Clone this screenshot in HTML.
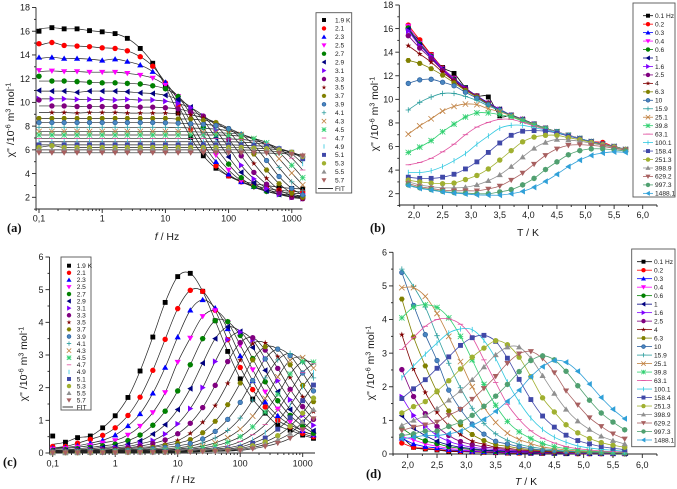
<!DOCTYPE html>
<html lang="en">
<head>
<meta charset="utf-8">
<title>AC susceptibility chart panels</title>
<style>
html,body{margin:0;padding:0;background:#fff;}
svg{display:block;font-family:"Liberation Sans",sans-serif;filter:blur(0.3px);}
</style>
</head>
<body>
<svg id="figure" xmlns="http://www.w3.org/2000/svg" width="677" height="489" viewBox="0 0 677 489"></svg>
<script>
const temps = [1.9,2.1,2.3,2.5,2.7,2.9,3.1,3.3,3.5,3.7,3.9,4.1,4.3,4.5,4.7,4.9,5.1,5.3,5.5,5.7];
const freqs = [0.1,0.16,0.25,0.4,0.63,1,1.6,2.5,4,6.3,10,15.9,25.1,39.8,63.1,100.1,158.4,251.3,398.9,629.2,997.3,1488.1];
const tempLabels = ['1.9 K','2.1','2.3','2.5','2.7','2.9','3.1','3.3','3.5','3.7','3.9','4.1','4.3','4.5','4.7','4.9','5.1','5.3','5.5','5.7'];
const freqLabels = ['0.1 Hz','0.2','0.3','0.4','0.6','1','1.6','2.5','4','6.3','10','15.9','25.1','39.8','63.1','100.1','158.4','251.3','398.9','629.2','997.3','1488.1'];

const chiPrime = [
[16.0,16.3,16.2,16.2,16.05,15.95,15.8,15.4,14.55,13.3,11.35,9.1,7.05,5.5,4.45,3.8,3.4,3.15,3.0,2.85,2.75,2.7],
[14.95,15.05,14.8,14.75,14.7,14.6,14.55,14.35,13.85,13.05,11.65,9.75,7.75,5.95,4.65,3.8,3.3,3.0,2.75,2.6,2.5,2.45],
[13.8,13.8,13.7,13.7,13.65,13.55,13.65,13.45,13.15,12.6,11.7,10.2,8.35,6.5,5.0,3.95,3.3,2.9,2.6,2.45,2.35,2.3],
[12.7,12.65,12.6,12.6,12.55,12.55,12.55,12.45,12.3,12.05,11.45,10.5,9.0,7.25,5.55,4.3,3.4,2.85,2.5,2.3,2.2,2.15],
[12.2,11.8,11.8,11.75,11.7,11.65,11.65,11.6,11.55,11.4,11.15,10.5,9.4,7.9,6.2,4.8,3.65,2.9,2.5,2.25,2.1,2.05],
[11.0,10.95,10.95,10.85,10.95,10.95,10.95,10.9,10.8,10.75,10.6,10.25,9.6,8.5,7.0,5.4,4.1,3.2,2.55,2.25,2.05,1.98],
[10.3,10.3,10.3,10.25,10.25,10.25,10.2,10.25,10.2,10.2,10.1,9.9,9.55,8.85,7.65,6.2,4.7,3.55,2.75,2.25,2.0,1.9],
[10.2,9.7,9.7,9.65,9.65,9.65,9.65,9.65,9.6,9.6,9.55,9.45,9.2,8.85,8.05,6.9,5.5,4.1,3.1,2.4,2.0,1.88],
[8.6,9.15,9.15,9.1,9.15,9.15,9.15,9.1,9.1,9.1,9.1,9.05,8.95,8.7,8.3,7.55,6.3,4.85,3.6,2.65,2.15,1.88],
[8.65,8.65,8.65,8.65,8.65,8.65,8.65,8.65,8.65,8.65,8.65,8.6,8.6,8.5,8.3,7.8,6.95,5.65,4.3,3.15,2.35,2.0],
[8.3,8.3,8.3,8.3,8.3,8.3,8.3,8.3,8.3,8.3,8.28,8.25,8.2,8.15,8.05,7.8,7.3,6.4,5.1,3.75,2.75,2.2],
[7.9,7.9,7.9,7.9,7.9,7.9,7.9,7.9,7.9,7.9,7.9,7.88,7.85,7.8,7.75,7.6,7.35,6.8,5.85,4.5,3.3,2.55],
[7.55,7.55,7.55,7.55,7.55,7.55,7.55,7.55,7.55,7.55,7.55,7.55,7.53,7.5,7.45,7.4,7.3,6.95,6.35,5.25,4.05,3.05],
[7.25,7.25,7.25,7.25,7.25,7.25,7.25,7.25,7.25,7.25,7.25,7.25,7.25,7.25,7.25,7.22,7.15,6.95,6.6,5.8,4.7,3.65],
[6.95,6.95,6.95,6.95,6.95,6.95,6.95,6.95,6.95,6.95,6.95,6.95,6.95,6.95,6.95,6.92,6.88,6.75,6.55,6.1,5.3,4.3],
[6.68,6.68,6.68,6.68,6.68,6.68,6.68,6.68,6.68,6.68,6.68,6.68,6.68,6.68,6.68,6.68,6.65,6.58,6.45,6.15,5.65,4.85],
[6.42,6.42,6.42,6.42,6.42,6.42,6.42,6.42,6.42,6.42,6.42,6.42,6.42,6.42,6.42,6.42,6.4,6.35,6.28,6.1,5.8,5.25],
[6.2,6.35,6.2,6.2,6.2,6.2,6.2,6.2,6.2,6.2,6.2,6.2,6.2,6.2,6.2,6.2,6.2,6.15,6.1,6.0,5.8,5.45],
[6.0,6.0,6.0,6.0,6.0,6.0,6.0,6.0,6.0,6.0,6.0,6.0,6.0,6.0,6.0,6.0,6.0,5.97,5.93,5.85,5.72,5.55],
[5.75,5.75,5.75,5.75,5.75,5.75,5.75,5.75,5.75,5.75,5.75,5.75,5.75,5.75,5.75,5.75,5.75,5.75,5.73,5.7,5.62,5.5]
];

const chiDouble = [
[.52,.33,.47,.52,.77,1.14,1.70,2.51,3.55,4.61,5.40,5.50,4.95,4.05,3.11,2.27,1.65,1.22,.85,.70,.55,.45],
[.2,.2,.3,.42,.54,.77,1.15,1.71,2.53,3.48,4.42,4.98,4.95,4.37,3.47,2.62,1.94,1.41,1.0,.8,.6,.5],
[.15,.17,.22,.3,.39,.55,.83,1.2,1.83,2.62,3.55,4.37,4.69,4.44,3.8,2.97,2.21,1.56,1.14,.87,.68,.55],
[.12,.14,.18,.23,.31,.38,.55,.82,1.24,1.85,2.78,3.52,4.18,4.36,4.0,3.3,2.55,1.87,1.35,.95,.68,.55],
[.08,.1,.13,.17,.22,.27,.38,.55,.85,1.28,1.9,2.7,3.5,4.05,4.02,3.6,2.89,2.18,1.6,1.15,.82,.6],
[.07,.08,.1,.13,.17,.2,.27,.37,.58,.87,1.33,1.97,2.75,3.5,3.86,3.72,3.23,2.53,1.88,1.33,.95,.68],
[.06,.07,.08,.1,.13,.16,.2,.28,.38,.58,.89,1.36,2.0,2.8,3.47,3.7,3.46,2.88,2.21,1.63,1.15,.85],
[.05,.06,.07,.08,.1,.12,.16,.21,.29,.4,.59,.91,1.39,2.07,2.8,3.38,3.53,3.15,2.59,1.95,1.42,1.03],
[.04,.05,.06,.07,.08,.1,.13,.17,.2,.28,.38,.6,.94,1.45,2.13,2.84,3.35,3.37,2.95,2.31,1.72,1.27],
[.03,.04,.05,.06,.07,.08,.1,.13,.17,.23,.3,.41,.62,.97,1.48,2.14,2.85,3.25,3.18,2.7,2.07,1.57],
[.03,.03,.04,.05,.06,.07,.08,.1,.13,.17,.22,.29,.43,.66,1.03,1.55,2.22,2.88,3.18,2.98,2.45,1.9],
[.02,.03,.03,.04,.05,.06,.07,.08,.1,.13,.16,.21,.31,.46,.69,1.07,1.62,2.3,2.85,3.05,2.78,2.3],
[.02,.02,.03,.03,.04,.05,.06,.07,.08,.1,.12,.16,.21,.31,.47,.73,1.13,1.67,2.33,2.84,2.92,2.6],
[.02,.02,.02,.03,.03,.04,.05,.06,.06,.08,.1,.12,.16,.22,.33,.5,.8,1.25,1.8,2.42,2.8,2.78],
[.01,.02,.02,.02,.03,.03,.04,.05,.05,.06,.07,.09,.12,.16,.22,.35,.56,.87,1.33,1.88,2.46,2.73],
[.01,.01,.02,.02,.02,.03,.03,.04,.04,.05,.06,.07,.09,.12,.16,.24,.4,.63,.98,1.46,2.03,2.46],
[.01,.01,.01,.02,.02,.02,.03,.03,.04,.04,.05,.06,.07,.09,.12,.18,.3,.46,.73,1.08,1.6,2.08],
[.01,.01,.01,.01,.02,.02,.02,.03,.03,.03,.04,.05,.06,.07,.09,.14,.22,.34,.53,.82,1.22,1.68],
[.01,.01,.01,.01,.01,.02,.02,.02,.02,.03,.03,.04,.05,.06,.07,.11,.17,.26,.4,.6,.95,1.33],
[.01,.01,.01,.01,.01,.01,.02,.02,.02,.02,.03,.03,.04,.05,.06,.08,.13,.2,.3,.45,.72,1.05]
];

const freqTicks = [0.1,1,10,100,1000];
const freqTickLabels = ['0,1','1','10','100','1000'];
const tempTicks = [2,2.5,3,3.5,4,4.5,5,5.5,6];
const tempTickLabels = ['2,0','2,5','3,0','3,5','4,0','4,5','5,0','5,5','6,0'];
const primeTicks = [2,4,6,8,10,12,14,16,18];
const doubleTicks = [0,1,2,3,4,5,6];

const styles = [
 ['square','#000','#000'],['circle','#f00','#f00'],['up','#0000ff','#0000ff'],['down','#ff00ff','#ff00ff'],
 ['diamond','#008000','#008000'],['left','#000080','#000080'],['right','#8000ff','#8000ff'],['circle','#800080','#800080'],
 ['star','#800000','#800000'],['penta','#808000','#808000'],['ball','#4a86c0','#2a5f9e'],['plus','#2f9f9f','#2f9f9f'],
 ['cross','#c08040','#c08040'],['aster','#30d070','#30d070'],['dash','#e04f9f','#e04f9f'],['bar','#30c8e0','#30c8e0'],
 ['square','#4048a8','#4048a8'],['circle','#a0b030','#a0b030'],['up','#909090','#909090'],['down','#a86060','#a86060'],
 ['diamond','#50a070','#50a070'],['left','#30a0d8','#30a0d8']
];

const svg = document.getElementById('figure');
const NS = 'http://www.w3.org/2000/svg';

function mk(tag, attrs, parent) {
  const el = document.createElementNS(NS, tag);
  for (const k in attrs) el.setAttribute(k, attrs[k]);
  (parent || svg).appendChild(el);
  return el;
}
function polyPts(cx, cy, pts) {
  return pts.map(p => (cx + p[0]).toFixed(2) + ',' + (cy + p[1]).toFixed(2)).join(' ');
}
function ngon(n, r, rot) {
  const a = [];
  for (let i = 0; i < n; i++) {
    const t = rot + i * 2 * Math.PI / n;
    a.push([r * Math.cos(t), r * Math.sin(t)]);
  }
  return a;
}
function starPts(r) {
  const a = [];
  for (let i = 0; i < 10; i++) {
    const t = -Math.PI / 2 + i * Math.PI / 5;
    const q = i % 2 ? r * 0.42 : r * 1.15;
    a.push([q * Math.cos(t), q * Math.sin(t)]);
  }
  return a;
}
function marker(parent, style, cx, cy, r) {
  const shape = style[0], fill = style[1], stroke = style[2];
  if (shape === 'square') return mk('rect', {x: cx - r * .9, y: cy - r * .9, width: r * 1.8, height: r * 1.8, fill}, parent);
  if (shape === 'circle') return mk('circle', {cx, cy, r, fill}, parent);
  if (shape === 'ball') return mk('circle', {cx, cy, r: r * .85, fill, stroke, 'stroke-width': .7}, parent);
  if (shape === 'up') return mk('polygon', {points: polyPts(cx, cy, [[0, -r * 1.1], [r * 1.15, r * .85], [-r * 1.15, r * .85]]), fill}, parent);
  if (shape === 'down') return mk('polygon', {points: polyPts(cx, cy, [[0, r * 1.1], [r * 1.15, -r * .85], [-r * 1.15, -r * .85]]), fill}, parent);
  if (shape === 'left') return mk('polygon', {points: polyPts(cx, cy, [[-r * 1.1, 0], [r * .85, -r * 1.15], [r * .85, r * 1.15]]), fill}, parent);
  if (shape === 'right') return mk('polygon', {points: polyPts(cx, cy, [[r * 1.1, 0], [-r * .85, -r * 1.15], [-r * .85, r * 1.15]]), fill}, parent);
  if (shape === 'diamond') return mk('polygon', {points: polyPts(cx, cy, ngon(8, r * 1.05, 0)), fill}, parent);
  if (shape === 'penta') return mk('polygon', {points: polyPts(cx, cy, ngon(6, r * 1.05, 0)), fill}, parent);
  if (shape === 'star') return mk('polygon', {points: polyPts(cx, cy, starPts(r)), fill}, parent);
  let d = '';
  if (shape === 'plus') d = `M${cx - r} ${cy}H${cx + r}M${cx} ${cy - r}V${cy + r}`;
  if (shape === 'cross') d = `M${cx - r} ${cy - r}L${cx + r} ${cy + r}M${cx - r} ${cy + r}L${cx + r} ${cy - r}`;
  if (shape === 'aster') d = `M${cx - r} ${cy - r}L${cx + r} ${cy + r}M${cx - r} ${cy + r}L${cx + r} ${cy - r}M${cx - r} ${cy}H${cx + r}M${cx} ${cy - r}V${cy + r}`;
  if (shape === 'dash') d = `M${cx - r} ${cy}H${cx + r}`;
  if (shape === 'bar') d = `M${cx} ${cy - r}V${cy + r}`;
  return mk('path', {d, fill: 'none', stroke, 'stroke-width': .8}, parent);
}
function smooth(pts) {
  let d = 'M' + pts[0][0].toFixed(2) + ' ' + pts[0][1].toFixed(2);
  for (let i = 0; i < pts.length - 1; i++) {
    const p0 = pts[Math.max(0, i - 1)], p1 = pts[i], p2 = pts[i + 1], p3 = pts[Math.min(pts.length - 1, i + 2)];
    const c1x = p1[0] + (p2[0] - p0[0]) / 6, c1y = p1[1] + (p2[1] - p0[1]) / 6;
    const c2x = p2[0] - (p3[0] - p1[0]) / 6, c2y = p2[1] - (p3[1] - p1[1]) / 6;
    d += `C${c1x.toFixed(2)} ${c1y.toFixed(2)} ${c2x.toFixed(2)} ${c2y.toFixed(2)} ${p2[0].toFixed(2)} ${p2[1].toFixed(2)}`;
  }
  return d;
}
function drawText(parent, str, x, y, size, anchor) {
  const t = mk('text', {x, y, 'font-size': size, 'text-anchor': anchor || 'start', fill: '#1a1a1a'}, parent);
  t.textContent = str;
  return t;
}
function yTitle(parent, x, y) {
  const t = mk('text', {x: 0, y: 0, 'font-size': 10.5, 'text-anchor': 'middle', fill: '#1a1a1a', transform: `translate(${x} ${y}) rotate(-90)`}, parent);
  const parts = [['χ" /10', 0, 10.5], ['-6', -3.5, 7], [' m', 3.5, 10.5], ['3', -3.5, 7], [' mol', 3.5, 10.5], ['-1', -3.5, 7]];
  parts.forEach(p => {
    const s = mk('tspan', {dy: p[1], 'font-size': p[2]}, t);
    s.textContent = p[0];
  });
  return t;
}

function drawAxes(g, ax) {
  const axisColor = '#222';
  const axesGroup = mk('g', {stroke: axisColor, 'stroke-width': .9, fill: 'none'}, g);
  
  
  mk('line', {x1: ax.left, x2: ax.left, y1: ax.top, y2: ax.bottom + .4}, axesGroup);
  mk('line', {x1: ax.left, x2: ax.right, y1: ax.bottom, y2: ax.bottom}, axesGroup);
  ax.yMajor.forEach(v => mk('line', {x1: ax.left - 4, x2: ax.left, y1: ax.y(v), y2: ax.y(v)}, axesGroup));
  ax.yMinor.forEach(v => mk('line', {x1: ax.left - 2, x2: ax.left, y1: ax.y(v), y2: ax.y(v)}, axesGroup));
  ax.xMajor.forEach(v => mk('line', {x1: ax.x(v), x2: ax.x(v), y1: ax.bottom, y2: ax.bottom + 4}, axesGroup));
  ax.xMinor.forEach(v => mk('line', {x1: ax.x(v), x2: ax.x(v), y1: ax.bottom, y2: ax.bottom + 2}, axesGroup));
  ax.yMajor.forEach(v => {
    const t = drawText(g, String(v), ax.left - 6, ax.y(v) + 3.2, 9, 'end');
    
    
  });
  ax.xMajor.forEach((v, i) => {
    const t = drawText(g, ax.xLabels[i], ax.x(v), ax.tickBase, 9, 'middle');
    
    
  });
}

function drawLegend(g, box, labels, count, mode, lx0, lx1, mx, tx, y0, step, fitY) {
  const bg = mk('rect', {x: box[0], y: box[1], width: box[2], height: box[3], fill: '#fff', stroke: '#555', 'stroke-width': .9}, g);
  
  
  for (let i = 0; i < count; i++) {
    const y = y0 + i * step;
    const e = mk('g', {}, g);
    
    
    if (mode === 'line') mk('line', {x1: lx0, x2: lx1, y1: y, y2: y, stroke: styles[i][2], 'stroke-width': .8}, e);
    marker(e, styles[i], mx, y, 2.2);
    drawText(e, labels[i], tx, y + 2.3, 6.6);
  }
  if (fitY) {
    const e = mk('g', {}, g);
    
    
    mk('line', {x1: lx0, x2: lx1, y1: fitY, y2: fitY, stroke: '#222', 'stroke-width': .9}, e);
    drawText(e, 'FIT', tx, fitY + 2.3, 6.6);
  }
}

function logMinors(xMinLog, xMaxLog) {
  const out = [];
  for (let d = -2; d < 4; d++) for (let m = 2; m <= 9; m++) {
    const v = m * Math.pow(10, d), l = Math.log10(v);
    if (l > xMinLog && l < xMaxLog) out.push(v);
  }
  return out;
}
function rangeStep(a, b, s) {
  const o = [];
  for (let v = a; v <= b + 1e-9; v += s) o.push(+v.toFixed(3));
  return o;
}

function freqAxes(cfg) {
  const dec = (cfg.x1000 - cfg.x01) / 4;
  const x = f => cfg.x01 + (Math.log10(f) + 1) * dec;
  return {
    x, left: cfg.left, right: cfg.right, top: cfg.top, bottom: cfg.bottom, y: cfg.y,
    xMajor: freqTicks, xLabels: freqTickLabels,
    xMinor: logMinors(-1 - (cfg.x01 - cfg.left) / dec, -1 + (cfg.right - cfg.x01) / dec),
    yMajor: cfg.yMajor, yMinor: cfg.yMinor, tickBase: cfg.tickBase
  };
}
function tempAxes(cfg) {
  const u = (cfg.x6 - cfg.x2) / 4;
  const x = t => cfg.x2 + (t - 2) * u;
  return {
    x, left: cfg.left, right: cfg.right, top: cfg.top, bottom: cfg.bottom, y: cfg.y,
    xMajor: tempTicks, xLabels: tempTickLabels,
    xMinor: [1.75, 2.25, 2.75, 3.25, 3.75, 4.25, 4.75, 5.25, 5.75, 6.25],
    yMajor: cfg.yMajor, yMinor: cfg.yMinor, tickBase: cfg.tickBase
  };
}

function drawFreqSeries(g, ax, table, fitFirst) {
  const lines = mk('g', {fill: 'none', stroke: '#222', 'stroke-width': .7}, g);
  
  
  table.forEach((row, s) => {
    const pts = row.map((v, i) => [ax.x(freqs[i]), ax.y(i === 0 ? fitFirst(row) : v)]);
    const p = mk('path', {d: smooth(pts)}, lines);
    
    
  });
  table.forEach((row, s) => {
    const sg = mk('g', {}, g);
    
    
    row.forEach((v, i) => {
      const m = marker(sg, styles[s], ax.x(freqs[i]), ax.y(v), 2.7);
      
      
    });
  });
}
function drawTempSeries(g, ax, table) {
  freqs.forEach((f, s) => {
    const sg = mk('g', {}, g);
    
    
    const vals = table.map(row => row[s]);
    const pts = vals.map((v, i) => [ax.x(temps[i]), ax.y(v)]);
    const p = mk('path', {d: smooth(pts), fill: 'none', stroke: styles[s][2], 'stroke-width': .8}, sg);
    
    
    vals.forEach((v, i) => {
      const m = marker(sg, styles[s], ax.x(temps[i]), ax.y(v), 2.7);
      
      
    });
  });
}
function labelTitle(g, x, y, letter, unit, italic) {
  const t = mk('text', {x, y, 'font-size': 10.5, 'text-anchor': 'middle', fill: '#1a1a1a'}, g);
  
  
  const a = mk('tspan', {'font-style': italic ? 'italic' : 'normal'}, t);
  a.textContent = letter;
  const b = mk('tspan', {}, t);
  b.textContent = ' / ' + unit;
}
function panelLabel(g, x, y, str) {
  const t = mk('text', {x, y, 'font-size': 12.5, 'font-weight': 'bold', fill: '#111', 'font-family': '"Liberation Serif",serif'}, g);
  
  
  t.textContent = str;
}
function linY(yA, vA, yB, vB) {
  return v => yA + (v - vA) * (yB - yA) / (vB - vA);
}

/* panel a */
const gA = mk('g', {});


const axA = freqAxes({x01: 39, x1000: 291.8, left: 36, right: 302.5, top: 7.5, bottom: 209,
  y: linY(197.3, 2, 7.5, 18), yMajor: primeTicks, yMinor: rangeStep(1, 17, 2), tickBase: 221.7});
drawAxes(gA, axA);
drawFreqSeries(gA, axA, chiPrime, row => row[2]);
yTitle(gA, 14, 120);
labelTitle(gA, 167, 240, 'f', 'Hz', true);
panelLabel(gA, 7, 232, '(a)');
drawLegend(gA, [316, 12.7, 35.7, 180.3], tempLabels, 20, 'marker', 318, 333, 324, 335, 20, 8.43, 188.5);

/* panel b */
const gB = mk('g', {});


const axB = tempAxes({x2: 414, x6: 642.7, left: 399.3, right: 657, top: 5, bottom: 205,
  y: linY(193.7, 2, 5, 18), yMajor: primeTicks, yMinor: rangeStep(1, 17, 2), tickBase: 218});
drawAxes(gB, axB);
drawTempSeries(gB, axB, chiPrime);
yTitle(gB, 378, 114);
labelTitle(gB, 528, 236, 'T', 'K', false);
panelLabel(gB, 370, 232, '(b)');
drawLegend(gB, [633, 3, 42, 194], freqLabels, 22, 'line', 643, 653, 648, 655, 15.7, 8.46);

/* panel c */
const gC = mk('g', {});


const axC = freqAxes({x01: 52.7, x1000: 302.7, left: 49.5, right: 315, top: 257, bottom: 453,
  y: linY(453, 0, 257, 6), yMajor: doubleTicks, yMinor: rangeStep(.5, 5.5, 1), tickBase: 466.7});
drawAxes(gC, axC);
drawFreqSeries(gC, axC, chiDouble, row => row[1] * .8);
yTitle(gC, 27, 364);
labelTitle(gC, 183, 483, 'f', 'Hz', true);
panelLabel(gC, 3, 466, '(c)');
drawLegend(gC, [61, 257, 30, 153], tempLabels, 20, 'marker', 62.5, 73, 69, 76.7, 265.7, 7.08, 407);

/* panel d */
const gD = mk('g', {});


const axD = tempAxes({x2: 407.7, x6: 642.3, left: 393, right: 657, top: 252.3, bottom: 454,
  y: linY(454, 0, 252.3, 6), yMajor: doubleTicks, yMinor: rangeStep(.5, 5.5, 1), tickBase: 468});
drawAxes(gD, axD);
drawTempSeries(gD, axD, chiDouble);
yTitle(gD, 374, 363);
labelTitle(gD, 526, 485, 'T', 'K', true);
panelLabel(gD, 366, 478, '(d)');
drawLegend(gD, [631.7, 249, 43.3, 197.7], freqLabels, 22, 'line', 637, 652, 643.5, 654, 261.7, 8.49);
</script>
</body>
</html>
